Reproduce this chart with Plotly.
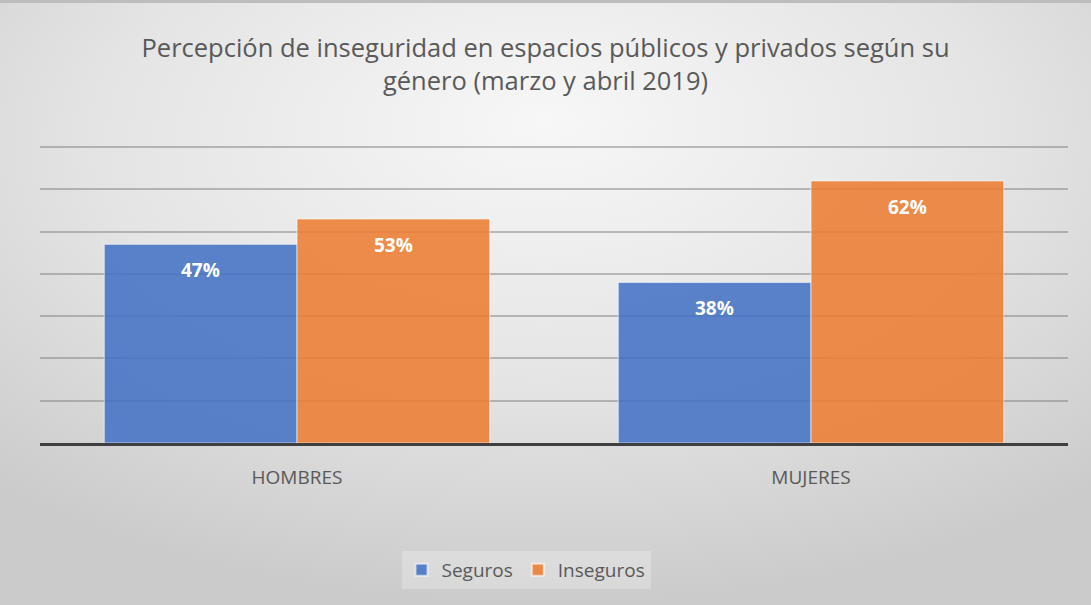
import plotly.graph_objects as go
import base64

categories = ["HOMBRES", "MUJERES"]
seguros = [47, 38]
inseguros = [53, 62]
series_names = ["Seguros", "Inseguros"]
title_text = "Percepción de inseguridad en espacios públicos y privados según su<br>género (marzo y abril 2019)"

W, H = 1091, 605
ML, MR, MT, MB = 40, 23, 145, 162
PW, PH = W - ML - MR, H - MT - MB

blue = "rgba(68,114,196,0.87)"
orange = "rgba(237,125,49,0.87)"
text_gray = "#595959"

svg = f'''<svg xmlns="http://www.w3.org/2000/svg" width="{W}" height="{H}" viewBox="0 0 {W} {H}" preserveAspectRatio="none">
<defs><radialGradient id="g" cx="50%" cy="25%" r="75%" fx="50%" fy="20%">
<stop offset="0%" stop-color="#f7f7f7"/><stop offset="55%" stop-color="#e4e4e4"/><stop offset="100%" stop-color="#cbcbcb"/>
</radialGradient></defs><rect width="{W}" height="{H}" fill="url(#g)"/></svg>'''
bg_src = "data:image/svg+xml;base64," + base64.b64encode(svg.encode()).decode()

fig = go.Figure()
fig.add_trace(go.Bar(name=series_names[0], x=categories, y=seguros,
                     marker=dict(color=blue, line=dict(color="rgba(255,255,255,0.6)", width=1)),
                     hoverinfo="x+y"))
fig.add_trace(go.Bar(name=series_names[1], x=categories, y=inseguros,
                     marker=dict(color=orange, line=dict(color="rgba(255,255,255,0.6)", width=1)),
                     hoverinfo="x+y"))

# data labels (inside end, offset down from bar top)
group_w = PW / len(categories) * 0.75
for vals, off in ((seguros, -group_w / 4), (inseguros, group_w / 4)):
    for c, v in zip(categories, vals):
        fig.add_annotation(x=c, y=v, xref="x", yref="y", text=f"<b>{v}%</b>",
                           showarrow=False, xshift=off, yshift=-26,
                           font=dict(family="Open Sans", size=19, color="white"))

fig.add_layout_image(source=bg_src, xref="paper", yref="paper",
                     x=-ML / PW, y=1 + MT / PH, sizex=W / PW, sizey=H / PH,
                     xanchor="left", yanchor="top", sizing="stretch", layer="below")

fig.update_layout(
    width=W, height=H,
    margin=dict(l=ML, r=MR, t=MT, b=MB),
    paper_bgcolor="#e2e2e2", plot_bgcolor="rgba(0,0,0,0)",
    barmode="group", bargap=0.25, bargroupgap=0,
    title=dict(text=title_text, x=0.5, xanchor="center", y=1 - 57 / H, yanchor="middle",
               font=dict(family="Open Sans", size=25.5, color=text_gray)),
    font=dict(family="Open Sans", color=text_gray),
    legend=dict(orientation="h", x=(526 - ML) / PW, xanchor="center", y=-127 / PH, yanchor="middle",
                bgcolor="rgba(255,255,255,0.25)", font=dict(size=19, color=text_gray),
                itemsizing="constant", traceorder="normal"),
    xaxis=dict(showgrid=False, showline=True, linecolor="#3f3f3f", linewidth=2.5,
               tickfont=dict(size=19, color=text_gray), ticklabelstandoff=15, ticks=""),
    yaxis=dict(range=[0, 70.5], dtick=10, showticklabels=False, showgrid=True,
               gridcolor="rgba(128,128,128,0.5)", gridwidth=1.5, zeroline=False, showline=False),
    showlegend=True,
)
fig.add_shape(type="line", xref="paper", yref="paper", x0=-ML / PW, x1=(W - ML) / PW,
              y0=1 + (MT - 1.5) / PH, y1=1 + (MT - 1.5) / PH, line=dict(color="#bdbdbd", width=3))

fig.write_html("out.html", config={"displayModeBar": False},
               post_script="document.body.style.margin='0px';document.body.style.overflow='hidden';")
